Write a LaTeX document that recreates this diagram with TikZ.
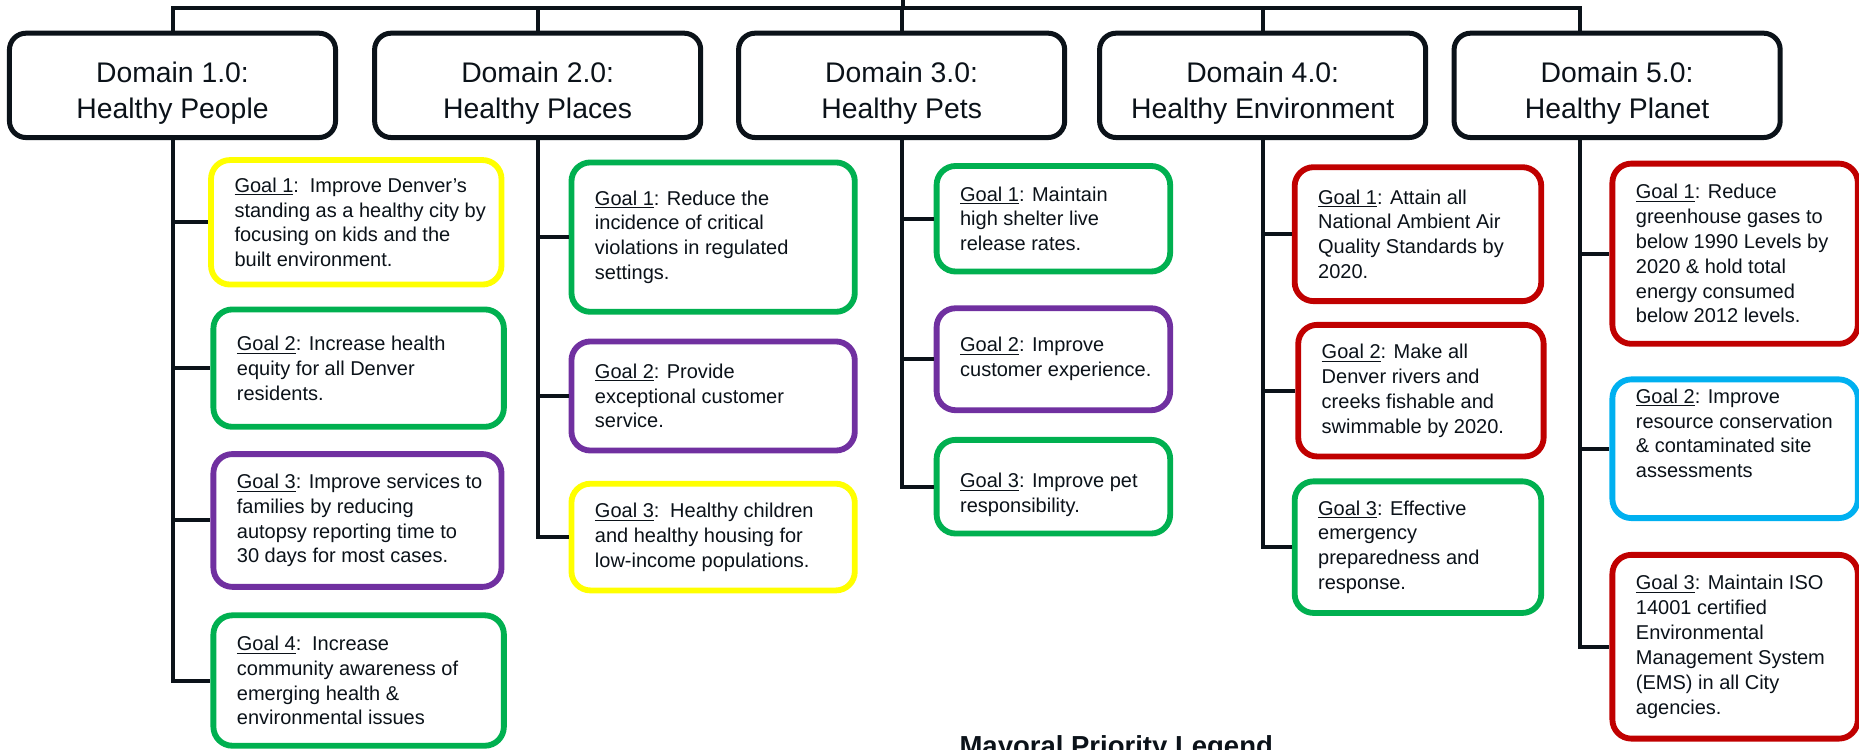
\documentclass[tikz,border=0pt]{standalone}
\usepackage{fontspec}
\setmainfont{Liberation Sans}

\definecolor{lineblack}{HTML}{0B1219}
\definecolor{goalgreen}{HTML}{00B050}
\definecolor{goalpurple}{HTML}{7030A0}
\definecolor{goalyellow}{HTML}{FFFF00}
\definecolor{goalred}{HTML}{C00000}
\definecolor{goalblue}{HTML}{00B0F0}

\def\gl#1{\underline{Goal #1}}
\def\dstrut{\rule{0pt}{22pt}}

\tikzset{
  dombox/.style={draw=lineblack, line width=3pt, rounded corners=0.35cm, fill=white,
    minimum width=6.875cm, minimum height=2.2cm, align=center,
    font=\fontsize{17}{21.5}\selectfont, text=lineblack},
  goalbox/.style={line width=3.5pt, rounded corners=0.4cm, fill=white},
  goaltext/.style={align=left, anchor=west, inner sep=0pt,
    font=\fontsize{12}{14.9}\selectfont, text=lineblack},
  link/.style={draw=lineblack, line width=2.4pt}
}

% goal box from its corners: [text shift], name, x1, y1, x2, y2, colour, text
\newcommand\goal[8][0]{%
  \pgfmathsetmacro\boxw{(#5-#3)*0.025}%
  \pgfmathsetmacro\boxh{(#6-#4)*0.025}%
  \node[goalbox, draw=#7, minimum width=\boxw cm, minimum height=\boxh cm]
    (#2) at ({(#3+#5)/2},{(#4+#6)/2}) {};
  \node[goaltext, yshift={-#1*0.025cm}] (#2t) at ([xshift=0.55cm]#2.west) {#8};}

\begin{document}
\begin{tikzpicture}[x=0.025cm, y={(0cm,-0.025cm)}]
    \useasboundingbox (0,0) rectangle (1568,632);
    \clip (0,0) rectangle (1568,632);

    \node[dombox] (d1) at (145.5,72) {\dstrut Domain 1.0:\\Healthy People};
    \node[dombox] (d2) at (453.5,72) {\dstrut Domain 2.0:\\Healthy Places};
    \node[dombox] (d3) at (760.5,72) {\dstrut Domain 3.0:\\Healthy Pets};
    \node[dombox] (d4) at (1065,72) {\dstrut Domain 4.0:\\Healthy Environment};
    \node[dombox] (d5) at (1364,72) {\dstrut Domain 5.0:\\Healthy Planet};

    \coordinate (root) at (762,0);
    \coordinate (bus) at (762,7);
    \coordinate (d5top) at (1333,28);
    \coordinate (d5foot) at (1333,116);

    % domain 1
    \goal{g11}{178}{135}{423}{240}{goalyellow}{\gl{1}:\, Improve Denver’s\\standing as a healthy city by\\focusing on kids and the\\built environment.}
    \goal{g12}{180}{261}{425}{360}{goalgreen}{\gl{2}: Increase health\\equity for all Denver\\residents.}
    \goal{g13}{180}{383}{423}{495}{goalpurple}{\gl{3}: Improve services to\\families by reducing\\autopsy reporting time to\\30 days for most cases.}
    \goal{g14}{180}{519}{425}{629}{goalgreen}{\gl{4}:\, Increase\\community awareness of\\emerging health \&\\environmental issues}

    % domain 2
    \goal{g21}{482}{137}{721}{263}{goalgreen}{\gl{1}: Reduce the\\incidence of critical\\violations in regulated\\settings.}
    \goal{g22}{482}{288}{721}{380}{goalpurple}{\gl{2}: Provide\\exceptional customer\\service.}
    \goal{g23}{482}{408}{721}{498}{goalyellow}{\gl{3}:\, Healthy children\\and healthy housing for\\low-income populations.}

    % domain 3
    \goal{g31}{790}{140}{987}{229}{goalgreen}{\gl{1}: Maintain\\high shelter live\\release rates.}
    \goal{g32}{790}{260}{987}{346}{goalpurple}{\gl{2}: Improve\\customer experience.}
    \goal[7]{g33}{790}{371}{987}{450}{goalgreen}{\gl{3}: Improve pet\\responsibility.}

    % domain 4
    \goal{g41}{1092}{141}{1300}{254}{goalred}{\gl{1}: Attain all\\National Ambient Air\\Quality Standards by\\2020.}
    \goal{g42}{1095}{274}{1302}{385}{goalred}{\gl{2}: Make all\\Denver rivers and\\creeks fishable and\\swimmable by 2020.}
    \goal{g43}{1092}{406}{1300}{517}{goalgreen}{\gl{3}: Effective\\emergency\\preparedness and\\response.}

    % domain 5
    \goal{g51}{1360}{138}{1567}{290}{goalred}{\gl{1}: Reduce\\greenhouse gases to\\below 1990 Levels by\\2020 \& hold total\\energy consumed\\below 2012 levels.}
    \goal[-13]{g52}{1360}{320}{1567}{437}{goalblue}{\gl{2}: Improve\\resource conservation\\\& contaminated site\\assessments}
    \goal{g53}{1360}{468}{1567}{623}{goalred}{\gl{3}: Maintain ISO\\14001 certified\\Environmental\\Management System\\(EMS) in all City\\agencies.}

    \node[font=\fontsize{16.5}{20}\selectfont\bfseries, text=lineblack, anchor=base]
      (legend) at (941.5,637) {Mayoral Priority Legend};

    % connectors
    \draw[link] (root) -- (bus);
    \foreach \d in {d1,d2,d3,d4}
      \draw[link] (bus) -| (\d.north);
    \draw[link] (bus) -| (d5top);

    \foreach \g in {g11,g12,g13,g14}
      \draw[link] (d1.south) |- (\g.west);
    \foreach \g in {g21,g22,g23}
      \draw[link] (d2.south) |- (\g.west);
    \foreach \g in {g31,g32,g33}
      \draw[link] (d3.south) |- (\g.west);
    \foreach \g in {g41,g42,g43}
      \draw[link] (d4.south) |- (\g.west);
    \foreach \g in {g51,g52,g53}
      \draw[link] (d5foot) |- (\g.west);

\end{tikzpicture}
\end{document}
